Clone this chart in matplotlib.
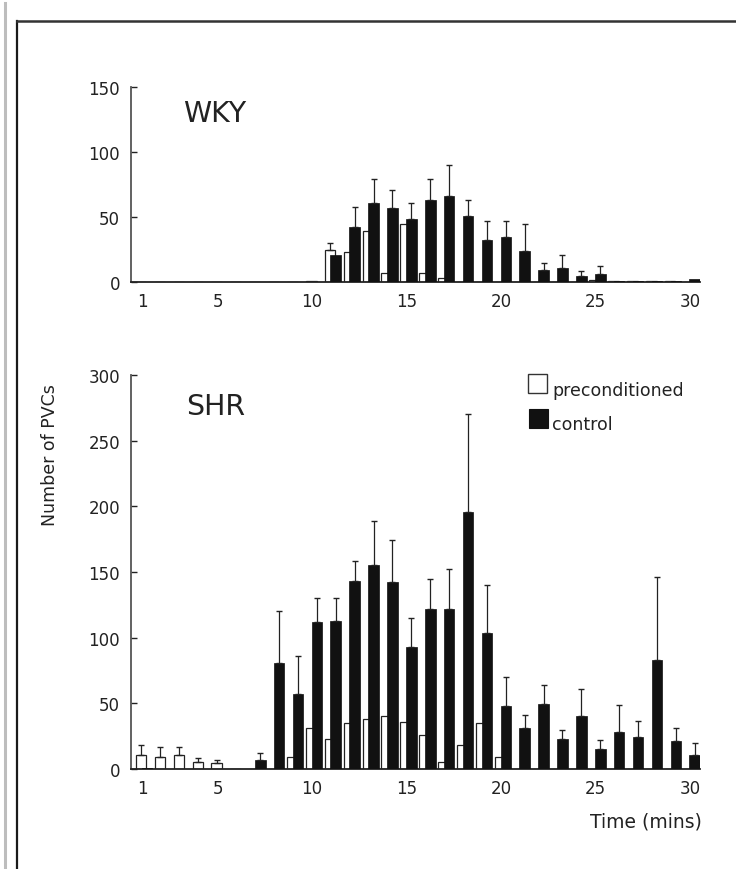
import matplotlib
matplotlib.use("Agg")
import matplotlib.pyplot as plt
from matplotlib.patches import Rectangle
from matplotlib.lines import Line2D
import numpy as np

plt.rcParams['font.family'] = ['DejaVu Sans']

# ---------------- data ----------------
minutes = list(range(1, 31))
x_tick_labels = [1, 5, 10, 15, 20, 25, 30]
series_names = ['preconditioned', 'control']

wky_pre = [0, 0, 0, 0, 0, 0, 0, 0, 0, 1, 25, 23, 39, 7, 45, 7, 3, 0, 0, 0,
           0, 0, 0, 0, 1.5, 1, 1, 1, 1, 0]
wky_pre_err = [0, 0, 0, 0, 0, 0, 0, 0, 0, 0, 5, 0, 0, 0, 0, 0, 0, 0, 0, 0,
               0, 0, 0, 0, 0, 0, 0, 0, 0, 0]
wky_ctrl = [0, 0, 0, 0, 0, 0, 0, 0, 0, 0, 21, 42, 61, 57, 48.5, 63, 66, 50.5, 32.5, 35,
            24, 9.5, 11, 5, 6.4, 1, 1, 1, 1, 2]
wky_ctrl_err = [0, 0, 0, 0, 0, 0, 0, 0, 0, 0, 0, 16, 18, 14, 12.5, 16, 24, 12.5, 14.5, 12,
                21, 5, 9.5, 3.5, 5.6, 0, 0, 0, 0, 0]

shr_pre = [11, 9, 10.5, 5, 4.3, 0, 0, 0, 9.5, 31.5, 23, 35, 38, 40, 36, 26, 5, 18, 35, 9,
           0, 0, 0, 0, 0, 0, 0, 0, 0, 0]
shr_pre_err = [7, 8, 6.5, 3, 2.7, 0, 0, 0, 0, 0, 0, 0, 0, 0, 0, 0, 0, 0, 0, 0,
               0, 0, 0, 0, 0, 0, 0, 0, 0, 0]
shr_ctrl = [1, 0, 0, 0, 0, 0, 7, 81, 57, 112, 113, 143, 155, 142.5, 92.7, 122, 122, 196, 103.5, 48,
            31.5, 49.7, 22.7, 40, 15, 28, 24, 83, 21.5, 11]
shr_ctrl_err = [0, 0, 0, 0, 0, 0, 5, 39, 29, 18.5, 17.5, 15, 34, 32, 22.3, 22.7, 30, 74, 36.5, 22,
                9.5, 14, 6.8, 21, 7, 21, 12.6, 63, 10, 8.7]

# ---------------- figure ----------------
W, H = 736, 870
fig = plt.figure(figsize=(W / 100, H / 100), dpi=100)
fig.patch.set_facecolor('white')

def fx(px):
    return px / W

def fy(py):
    return 1 - py / H

# decorative frame lines from the scanned page
fig.add_artist(Line2D([fx(5), fx(5)], [0, fy(4)], color='#bdbdbd', lw=2.2))
fig.add_artist(Line2D([fx(17), fx(17)], [0, fy(22)], color='#1a1a1a', lw=1.6))
fig.add_artist(Line2D([fx(17), 1.0], [fy(22), fy(22)], color='#333333', lw=1.8))

left = fx(131)
width = fx(700) - fx(131)
ax1 = fig.add_axes([left, fy(283), width, fy(88) - fy(283)])
ax2 = fig.add_axes([left, fy(770), width, fy(376) - fy(770)])

x = np.array(minutes, dtype=float)
bw = 0.56
off_pre = -0.05
off_ctrl = 0.25


def draw(ax, pre, pre_err, ctrl, ctrl_err, ymax, yticks):
    pre = np.array(pre, dtype=float)
    ctrl = np.array(ctrl, dtype=float)
    pre_err = np.array(pre_err, dtype=float)
    ctrl_err = np.array(ctrl_err, dtype=float)
    ax.bar(x + off_pre, pre, width=bw, color='white', edgecolor='#222222',
           linewidth=0.9, zorder=2)
    m = pre_err > 0
    ax.errorbar(x[m] + off_pre, pre[m], yerr=[np.zeros(m.sum()), pre_err[m]],
                fmt='none', ecolor='#222222', elinewidth=0.9, capsize=2.5,
                capthick=1.0, zorder=2.5)
    ax.bar(x + off_ctrl, ctrl, width=bw, color='#111111', edgecolor='#111111',
           linewidth=0.5, zorder=3)
    m = ctrl_err > 0
    ax.errorbar(x[m] + off_ctrl, ctrl[m], yerr=[np.zeros(m.sum()), ctrl_err[m]],
                fmt='none', ecolor='#222222', elinewidth=0.9, capsize=2.5,
                capthick=1.0, zorder=3.5)
    ax.set_xlim(0.41, 30.53)
    ax.set_ylim(0, ymax)
    ax.set_yticks(yticks)
    ax.set_xticks(x_tick_labels)
    ax.set_xticklabels([str(v) for v in x_tick_labels])
    for s in ['top', 'right']:
        ax.spines[s].set_visible(False)
    ax.spines['left'].set_color('#555555')
    ax.spines['left'].set_linewidth(1.3)
    ax.spines['bottom'].set_color('#222222')
    ax.spines['bottom'].set_linewidth(1.3)
    ax.tick_params(axis='x', length=0, pad=7, labelsize=12, colors='#222222')
    ax.tick_params(axis='y', direction='in', length=4, width=1, pad=8,
                   labelsize=12, colors='#222222')
    ax.set_facecolor('white')


draw(ax1, wky_pre, wky_pre_err, wky_ctrl, wky_ctrl_err, 150, [0, 50, 100, 150])
draw(ax2, shr_pre, shr_pre_err, shr_ctrl, shr_ctrl_err, 300,
     [0, 50, 100, 150, 200, 250, 300])

fig.text(fx(183), fy(114), 'WKY', fontsize=20.5, color='#222222',
         ha='left', va='center')
fig.text(fx(186), fy(407), 'SHR', fontsize=20.5, color='#222222',
         ha='left', va='center')

# legend drawn manually (text baseline aligned with square bottoms)
sq_w, sq_h = 19, 19
fig.add_artist(Rectangle((fx(528), fy(375 + sq_h)), fx(sq_w), sq_h / H,
                         facecolor='white', edgecolor='#333333', linewidth=1.0,
                         transform=fig.transFigure))
fig.add_artist(Rectangle((fx(529), fy(410 + sq_h)), fx(sq_w), sq_h / H,
                         facecolor='#111111', edgecolor='#111111', linewidth=0.8,
                         transform=fig.transFigure))
fig.text(fx(552), fy(396), series_names[0], fontsize=12.5, color='#222222',
         ha='left', va='baseline')
fig.text(fx(552), fy(430), series_names[1], fontsize=12.5, color='#222222',
         ha='left', va='baseline')

fig.text(fx(50), fy(455), 'Number of PVCs', rotation=90, fontsize=12.5,
         color='#222222', ha='center', va='center')
fig.text(fx(702), fy(822), 'Time (mins)', fontsize=13.5, color='#222222',
         ha='right', va='center')

fig.savefig('out.png', dpi=100, facecolor='white')
